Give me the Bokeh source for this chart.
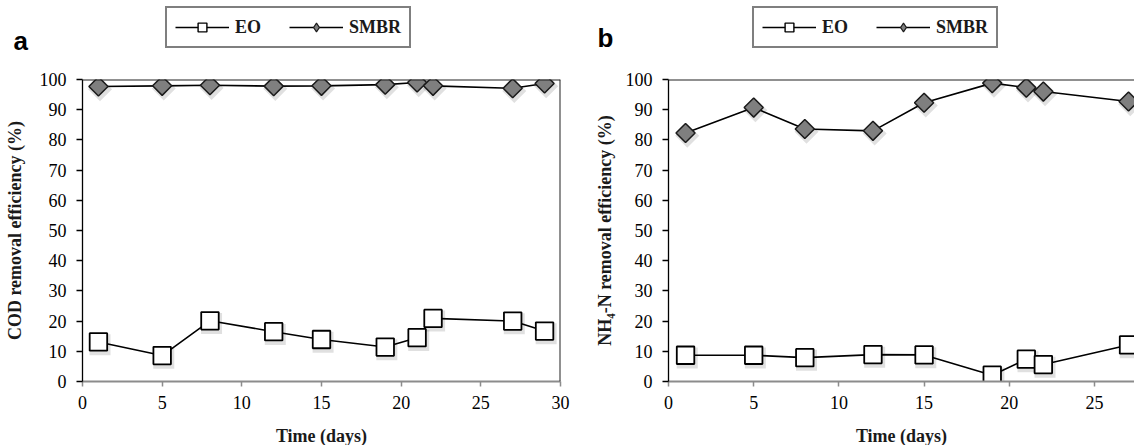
import math
from bokeh.plotting import figure
from bokeh.models import (Legend, LegendItem, Span, Label, ColumnDataSource,
                          FixedTicker, Range1d)
from bokeh.layouts import row, column
from bokeh.transform import dodge
from bokeh.embed import file_html
from bokeh.resources import INLINE

# ---------------- data ----------------
days_a = [1, 5, 8, 12, 15, 19, 21, 22, 27, 29]
eo_cod = [13.1, 8.6, 20.1, 16.5, 13.9, 11.4, 14.5, 20.9, 20.0, 16.7]
smbr_cod = [97.7, 97.9, 98.1, 97.8, 97.9, 98.3, 99.0, 97.9, 97.1, 98.7]

days_b = [1, 5, 8, 12, 15, 19, 21, 22, 27]
eo_nh4 = [8.7, 8.7, 7.9, 8.9, 8.8, 2.1, 7.4, 5.6, 12.1]
smbr_nh4 = [82.3, 90.7, 83.6, 83.0, 92.3, 98.8, 97.3, 96.0, 92.7]

x_ticks = [0, 5, 10, 15, 20, 25, 30]
y_ticks = [0, 10, 20, 30, 40, 50, 60, 70, 80, 90, 100]
series_names = ["EO", "SMBR"]
x_title = "Time (days)"
y_title_a = "COD removal efficiency (%)"
y_title_b = "NH\u2084-N removal efficiency (%)"

SERIF = "Liberation Serif"
SANS = "Liberation Sans"
EDGE = "#1a1a1a"
GREY_FILL = "#7f7f7f"
HEADER_H = 58


def make_header(width, letter, letter_x, letter_y, legend_x, days, eo, smbr):
    h = figure(width=width, height=HEADER_H, min_border_left=0, min_border_right=0,
               min_border_top=0, min_border_bottom=0,
               x_axis_type=None, y_axis_type=None,
               output_backend="svg", toolbar_location=None)
    h.outline_line_color = None
    h.background_fill_color = "white"
    h.border_fill_color = "white"
    src = ColumnDataSource(dict(x=days, eo=eo, smbr=smbr))
    l_eo = h.line("x", "eo", source=src, line_color="black", line_width=1.6,
                  visible=False)
    m_eo = h.scatter("x", "eo", source=src, marker="square", size=10,
                     fill_color="white", line_color="black", line_width=1.4,
                     visible=False)
    l_sm = h.line("x", "smbr", source=src, line_color="black", line_width=1.6,
                  visible=False)
    m_sm = h.scatter("x", "smbr", source=src, marker="diamond", size=10,
                     fill_color=GREY_FILL, line_color=EDGE, line_width=1.2,
                     visible=False)
    legend = Legend(items=[LegendItem(label=series_names[0], renderers=[l_eo, m_eo]),
                           LegendItem(label=series_names[1], renderers=[l_sm, m_sm])],
                    orientation="horizontal", location=(legend_x, HEADER_H - 48),
                    margin=0, padding=8, spacing=28, label_standoff=6,
                    glyph_width=54, glyph_height=22,
                    label_text_font=SERIF, label_text_font_size="18px",
                    label_text_font_style="bold", label_text_color=EDGE,
                    border_line_color="black", border_line_width=2,
                    background_fill_color="white", background_fill_alpha=1,
                    inactive_fill_alpha=0)
    h.add_layout(legend, "center")
    h.add_layout(Label(x=letter_x, y=HEADER_H - letter_y, x_units="screen",
                       y_units="screen", text=letter, text_font=SANS,
                       text_font_size="26px", text_font_style="bold",
                       text_color="black", text_baseline="alphabetic"))
    return h


def make_panel(days, eo, smbr, y_title, x_end, frame_w, b_left, b_right,
               right_line, ylab_standoff):
    p = figure(frame_width=frame_w, frame_height=302,
               min_border_left=b_left, min_border_right=b_right,
               min_border_top=79 - HEADER_H, min_border_bottom=63,
               x_range=Range1d(0, x_end), y_range=Range1d(0, 100),
               output_backend="svg", toolbar_location=None)
    p.background_fill_color = "white"
    p.border_fill_color = "white"
    p.outline_line_color = None
    p.xgrid.visible = False
    p.ygrid.visible = False

    src = ColumnDataSource(dict(x=days, eo=eo, smbr=smbr))

    p.line("x", "eo", source=src, line_color="black", line_width=1.6)
    p.line("x", "smbr", source=src, line_color="black", line_width=1.6)

    # soft drop shadows
    p.scatter(dodge("x", 0.1), dodge("eo", -0.9), source=src, marker="square",
              size=21, fill_color="black", fill_alpha=0.12, line_color=None)
    p.scatter(dodge("x", 0.1), dodge("smbr", -0.9), source=src, marker="square",
              angle=math.pi / 4, size=17, fill_color="black", fill_alpha=0.12,
              line_color=None)

    p.scatter("x", "eo", source=src, marker="square", size=17.5,
              fill_color="white", line_color="black", line_width=1.8)
    p.scatter("x", "smbr", source=src, marker="square", angle=math.pi / 4,
              size=13.5, fill_color=GREY_FILL, line_color=EDGE, line_width=1.5)

    # frame borders (top / right)
    p.add_layout(Span(location=100, dimension="width", line_color="#222222",
                      line_width=2))
    if right_line:
        p.add_layout(Span(location=x_end, dimension="height",
                          line_color="#222222", line_width=2))

    p.xaxis.ticker = FixedTicker(ticks=x_ticks)
    p.yaxis.ticker = FixedTicker(ticks=y_ticks)
    p.xaxis.minor_tick_line_color = None
    p.yaxis.minor_tick_line_color = None
    p.xaxis.axis_line_color = "#8c8c8c"
    p.xaxis.axis_line_width = 2
    p.xaxis.major_tick_line_color = "#8c8c8c"
    p.xaxis.major_tick_line_width = 1.5
    p.xaxis.major_tick_out = 5
    p.xaxis.major_tick_in = 0
    p.yaxis.axis_line_color = "black"
    p.yaxis.axis_line_width = 1.3
    p.yaxis.major_tick_line_color = "black"
    p.yaxis.major_tick_line_width = 1.3
    p.yaxis.major_tick_out = 6
    p.yaxis.major_tick_in = 0
    for ax in (p.xaxis, p.yaxis):
        ax.major_label_text_font = SERIF
        ax.major_label_text_font_size = "18px"
        ax.major_label_text_color = "black"
        ax.axis_label_text_font = SERIF
        ax.axis_label_text_font_size = "18px"
        ax.axis_label_text_font_style = "bold"
        ax.axis_label_text_color = EDGE
    p.xaxis.major_label_standoff = 9
    p.xaxis.axis_label_standoff = 14
    p.yaxis.major_label_standoff = 10
    p.yaxis.axis_label_standoff = ylab_standoff
    p.xaxis.axis_label = x_title
    p.yaxis.axis_label = y_title
    return p


ha = make_header(590, "a", 13, 40, 165, days_a, eo_cod, smbr_cod)
hb = make_header(544, "b", 7, 37, 162, days_b, eo_nh4, smbr_nh4)
pa = make_panel(days_a, eo_cod, smbr_cod, y_title_a, 30, 478, 82, 31, True, 12)
pb = make_panel(days_b, eo_nh4, smbr_nh4, y_title_b, 27.35, 466, 77, 0, False, 8)

layout = column(row(ha, hb, spacing=0), row(pa, pb, spacing=0), spacing=0)
open("out.html", "w").write(file_html(layout, INLINE))
